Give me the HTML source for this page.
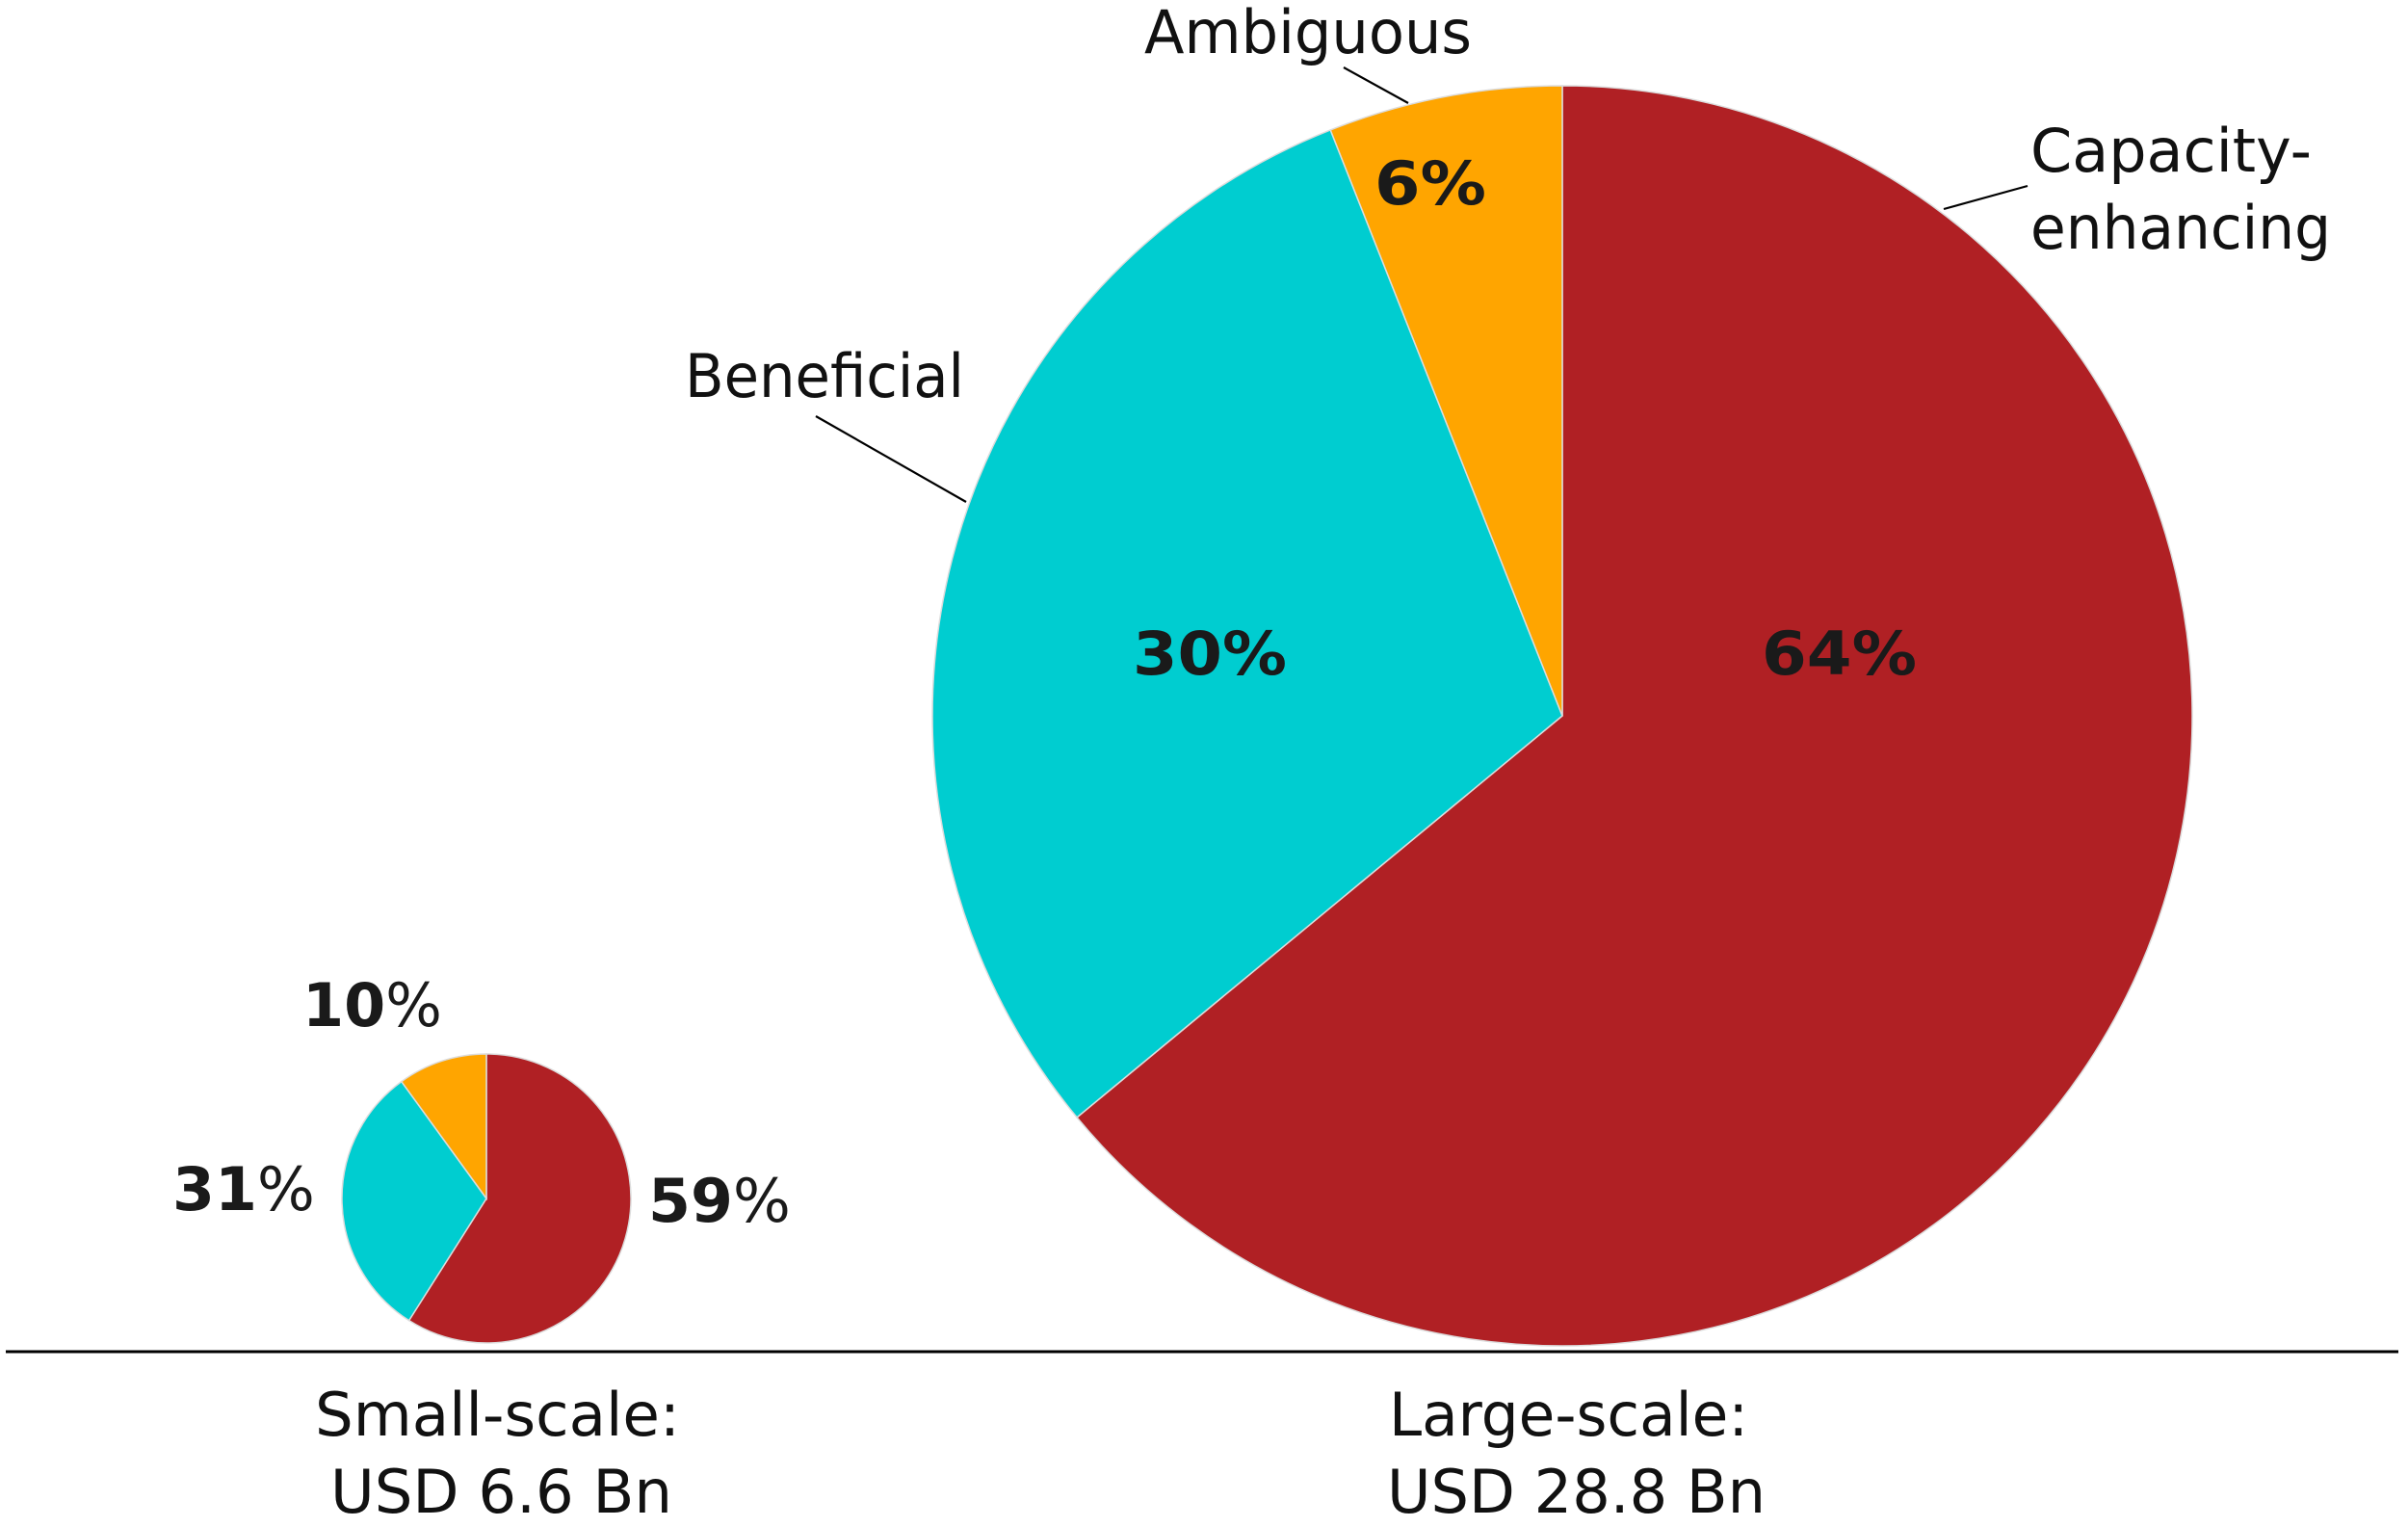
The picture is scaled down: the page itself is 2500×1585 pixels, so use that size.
<!DOCTYPE html>
<html><head><meta charset="utf-8"><style>
html,body{margin:0;padding:0;background:#fff;}
svg{display:block;font-family:"DejaVu Sans","Liberation Sans",sans-serif;}
</style></head><body>
<svg id="chart" width="2500" height="1585" viewBox="0 0 2500 1585" xmlns="http://www.w3.org/2000/svg">
<g id="slices"></g>
<line x1="6" y1="1403" x2="2490" y2="1403" stroke="#000" stroke-width="3"/>
<g stroke="#000" stroke-width="2.2" fill="none">
<line x1="1395" y1="70" x2="1462" y2="107"/>
<line x1="2105" y1="193" x2="2018" y2="217"/>
<line x1="847" y1="432" x2="1003" y2="521"/>
</g>
<g font-size="62" fill="#111">
<text x="1188" y="55" textLength="340" lengthAdjust="spacingAndGlyphs">Ambiguous</text>
<text x="2108" y="178" textLength="292" lengthAdjust="spacingAndGlyphs">Capacity-</text>
<text x="2108" y="258" textLength="312" lengthAdjust="spacingAndGlyphs">enhancing</text>
<text x="711" y="412" textLength="290" lengthAdjust="spacingAndGlyphs">Beneficial</text>
<text x="327" y="1490" textLength="379" lengthAdjust="spacingAndGlyphs">Small-scale:</text>
<text x="343" y="1570" textLength="355" lengthAdjust="spacingAndGlyphs">USD 6.6 Bn</text>
<text x="1442" y="1490" textLength="373" lengthAdjust="spacingAndGlyphs">Large-scale:</text>
<text x="1440" y="1570" textLength="393" lengthAdjust="spacingAndGlyphs">USD 28.8 Bn</text>
</g>
<g font-size="62" fill="#1a1a1a" font-weight="bold">
<text x="1427" y="212" textLength="116" lengthAdjust="spacingAndGlyphs">6%</text>
<text x="1176" y="700" textLength="160" lengthAdjust="spacingAndGlyphs">30%</text>
<text x="1829" y="700" textLength="161" lengthAdjust="spacingAndGlyphs">64%</text>
<text x="314" y="1065" textLength="145" lengthAdjust="spacingAndGlyphs">10<tspan font-weight="normal">%</tspan></text>
<text x="179" y="1256" textLength="148" lengthAdjust="spacingAndGlyphs">31<tspan font-weight="normal">%</tspan></text>
<text x="673" y="1268" textLength="148" lengthAdjust="spacingAndGlyphs">59<tspan font-weight="normal">%</tspan></text>
</g>
</svg>
<script>
const categories = ["Capacity-enhancing", "Beneficial", "Ambiguous"];
const largeValues = [64, 30, 6];
const smallValues = [59, 31, 10];
const colors = ["#b02024", "#00cdd0", "#ffa500"];
const NS = "http://www.w3.org/2000/svg";
const g = document.getElementById("slices");
function drawPie(values, cx, cy, r, prefix) {
  const total = values.reduce((a, b) => a + b, 0);
  let a0 = 0;
  values.forEach((v, i) => {
    const a1 = a0 + v / total * Math.PI * 2;
    const x0 = cx + r * Math.sin(a0), y0 = cy - r * Math.cos(a0);
    const x1 = cx + r * Math.sin(a1), y1 = cy - r * Math.cos(a1);
    const large = (a1 - a0) > Math.PI ? 1 : 0;
    const p = document.createElementNS(NS, "path");
    p.setAttribute("d", `M${cx},${cy} L${x0},${y0} A${r},${r} 0 ${large} 1 ${x1},${y1} Z`);
    p.setAttribute("fill", colors[i]);
    p.setAttribute("stroke", "#dcdcdc");
    p.setAttribute("stroke-width", "1.5");
    
    
    g.appendChild(p);
    a0 = a1;
  });
}
drawPie(largeValues, 1622, 743, 654, "large");
drawPie(smallValues, 505, 1244, 150, "small");
</script>
</body></html>
